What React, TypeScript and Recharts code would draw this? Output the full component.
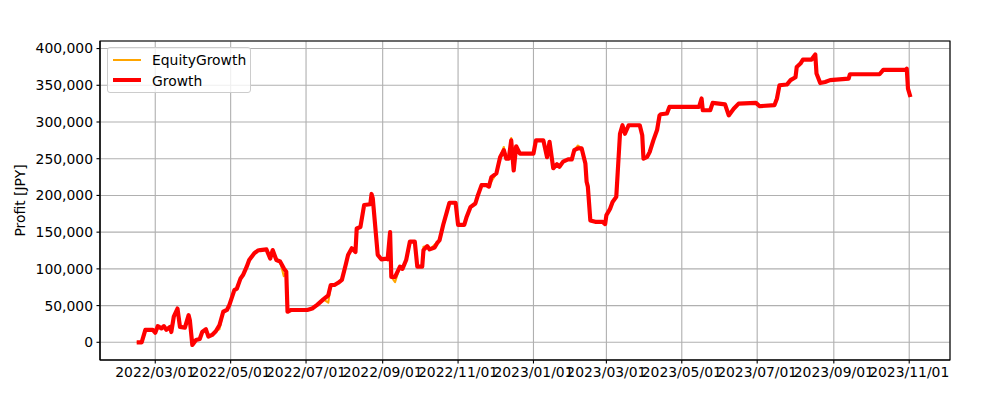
import React from 'react';
import { LineChart, Line, CartesianGrid, XAxis, YAxis, ReferenceArea } from 'recharts';

// sample dates of the curve
const dates = [
  '2022-02-14', '2022-02-18', '2022-02-21', '2022-02-27',
  '2022-03-01', '2022-03-03', '2022-03-06', '2022-03-08', '2022-03-10', '2022-03-13', '2022-03-14', '2022-03-16', '2022-03-19', '2022-03-21', '2022-03-25', '2022-03-28', '2022-03-29', '2022-03-31',
  '2022-04-03', '2022-04-06', '2022-04-08', '2022-04-11', '2022-04-13', '2022-04-16', '2022-04-19', '2022-04-22', '2022-04-25', '2022-04-28', '2022-04-30',
  '2022-05-04', '2022-05-06', '2022-05-09', '2022-05-11', '2022-05-14', '2022-05-16', '2022-05-20', '2022-05-23', '2022-05-25', '2022-05-30',
  '2022-06-02', '2022-06-04', '2022-06-07', '2022-06-10', '2022-06-13', '2022-06-15', '2022-06-16', '2022-06-19', '2022-06-24',
  '2022-07-02', '2022-07-06', '2022-07-10', '2022-07-15', '2022-07-19', '2022-07-21', '2022-07-24', '2022-07-27', '2022-07-30',
  '2022-08-02', '2022-08-04', '2022-08-07', '2022-08-10', '2022-08-11', '2022-08-14', '2022-08-17', '2022-08-22', '2022-08-23', '2022-08-24', '2022-08-28', '2022-08-31',
  '2022-09-04', '2022-09-05', '2022-09-07', '2022-09-08', '2022-09-11', '2022-09-15', '2022-09-17', '2022-09-20', '2022-09-23', '2022-09-27', '2022-09-29',
  '2022-10-03', '2022-10-04', '2022-10-07', '2022-10-09', '2022-10-13', '2022-10-15', '2022-10-17', '2022-10-20', '2022-10-23', '2022-10-25', '2022-10-30',
  '2022-11-01', '2022-11-06', '2022-11-08', '2022-11-11', '2022-11-15', '2022-11-17', '2022-11-20', '2022-11-24', '2022-11-26', '2022-11-28',
  '2022-12-02', '2022-12-05', '2022-12-08', '2022-12-10', '2022-12-12', '2022-12-14', '2022-12-16', '2022-12-18', '2022-12-21',
  '2023-01-01', '2023-01-03', '2023-01-09', '2023-01-12', '2023-01-14', '2023-01-17', '2023-01-20', '2023-01-22', '2023-01-25', '2023-01-29',
  '2023-02-01', '2023-02-03', '2023-02-06', '2023-02-09', '2023-02-12', '2023-02-13', '2023-02-14', '2023-02-16', '2023-02-20', '2023-02-26', '2023-02-28',
  '2023-03-01', '2023-03-04', '2023-03-06', '2023-03-09', '2023-03-12', '2023-03-14', '2023-03-16', '2023-03-19', '2023-03-28', '2023-03-30', '2023-03-31',
  '2023-04-03', '2023-04-05', '2023-04-08', '2023-04-11', '2023-04-13', '2023-04-14', '2023-04-19', '2023-04-21', '2023-04-30',
  '2023-05-15', '2023-05-17', '2023-05-18', '2023-05-24', '2023-05-26',
  '2023-06-05', '2023-06-08', '2023-06-12', '2023-06-16', '2023-06-30',
  '2023-07-03', '2023-07-15', '2023-07-17', '2023-07-19', '2023-07-25', '2023-07-28',
  '2023-08-01', '2023-08-02', '2023-08-05', '2023-08-07', '2023-08-14', '2023-08-17', '2023-08-18', '2023-08-21', '2023-08-25', '2023-08-29',
  '2023-09-13', '2023-09-14', '2023-10-08', '2023-10-11', '2023-10-29', '2023-10-30', '2023-10-31', '2023-11-02',
];

const growth = [
  0, 0, 17000, 17000,
  13000, 22000, 19000, 22000, 17000, 21000, 14000, 35000, 46000, 21000, 20000, 37000, 30000, -3700,
  3000, 4500, 14000, 17700, 7700, 10000, 15000, 23500, 41600, 44000, 51000,
  71000, 73000, 87000, 91600, 103000, 112000, 121000, 125000, 125600, 126500,
  114000, 125600, 112000, 110000, 100700, 96000, 41600, 44000, 44000,
  44000, 46000, 51000, 58500, 64000, 78000, 78000, 81000, 85000,
  105000, 119000, 128000, 123000, 155000, 157000, 187000, 188000, 202000, 196000, 119000, 113000,
  114000, 113000, 150000, 89000, 89000, 103000, 100000, 112000, 137000, 137000, 103000,
  103000, 125600, 131000, 126500, 129000, 135000, 139000, 160000, 178000, 190000, 190000,
  160000, 160000, 171000, 184000, 189000, 200000, 214000, 214000, 212000, 225000,
  230000, 252000, 261600, 250000, 250000, 275000, 234000, 267000, 257000,
  257000, 275000, 275000, 252000, 273000, 237000, 242500, 239000, 246000, 249000,
  249000, 261600, 264000, 264000, 243500, 218500, 212000, 166000, 164000, 164000, 161000,
  173000, 182000, 191000, 198000, 284000, 295600, 284000, 295600, 295600, 282000, 250000,
  252500, 259000, 275000, 289000, 309000, 310600, 311600, 320500, 320500,
  320500, 332000, 316000, 316000, 326000,
  324000, 309000, 318000, 325000, 326000,
  321500, 323000, 332000, 350000, 351000, 357000,
  361000, 375000, 379600, 385000, 385000, 392000, 366000, 353000, 354500, 357000,
  359000, 365000, 365000, 371000, 371000, 372700, 345500, 334000,
];

const equity = [
  0, 0, 17000, 17000,
  13000, 22000, 19000, 22000, 17000, 21000, 14000, 35000, 46000, 21000, 20000, 37000, 30000, -3700,
  3000, 4500, 14000, 17700, 7700, 10000, 15000, 18000, 41600, 44000, 51000,
  71000, 73000, 87000, 91600, 103000, 112000, 121000, 125000, 125600, 126500,
  114000, 125600, 112000, 110000, 90000, 96000, 41600, 44000, 44000,
  44000, 46000, 51000, 58500, 54000, 78000, 78000, 81000, 85000,
  105000, 119000, 128000, 123000, 155000, 157000, 187000, 188000, 202000, 196000, 119000, 113000,
  114000, 113000, 150000, 89000, 82000, 103000, 100000, 112000, 137000, 137000, 103000,
  103000, 130000, 131000, 126500, 133000, 135000, 139000, 160000, 178000, 190000, 190000,
  160000, 160000, 171000, 184000, 189000, 200000, 214000, 214000, 212000, 219000,
  230000, 252000, 266000, 250000, 250000, 278000, 234000, 267000, 257000,
  257000, 275000, 275000, 252000, 273000, 237000, 242500, 239000, 246000, 249000,
  249000, 261600, 268000, 264000, 243500, 218500, 212000, 166000, 164000, 164000, 161000,
  173000, 182000, 191000, 198000, 284000, 295600, 284000, 295600, 295600, 282000, 250000,
  252500, 259000, 275000, 289000, 309000, 310600, 311600, 320500, 320500,
  320500, 332000, 316000, 316000, 326000,
  324000, 309000, 318000, 325000, 326000,
  321500, 323000, 332000, 350000, 351000, 357000,
  361000, 375000, 379600, 385000, 385000, 392000, 366000, 353000, 354500, 357000,
  359000, 365000, 365000, 371000, 371000, 372700, 345500, 334000,
];

const xTickDates = [
  '2022-03-01', '2022-05-01', '2022-07-01', '2022-09-01', '2022-11-01', '2023-01-01',
  '2023-03-01', '2023-05-01', '2023-07-01', '2023-09-01', '2023-11-01',
];
const yTicks = [0, 50000, 100000, 150000, 200000, 250000, 300000, 350000, 400000];

const FONT = '"DejaVu Sans", sans-serif';
const FS = 13.9;
const PT = 100 / 72; // matplotlib points -> px at 100 dpi

const toDay = (s: string) =>
  Date.UTC(+s.slice(0, 4), +s.slice(5, 7) - 1, +s.slice(8, 10)) / 86400000;

const fmtDay = (d: number) => {
  const dt = new Date(Math.round(d) * 86400000);
  const mm = String(dt.getUTCMonth() + 1).padStart(2, '0');
  const dd = String(dt.getUTCDate()).padStart(2, '0');
  return `${dt.getUTCFullYear()}/${mm}/${dd}`;
};

const rows = dates.map((d, i) => ({ t: toDay(d), growth: growth[i], equity: equity[i] }));
const xTicks = xTickDates.map(toDay);
const base = toDay('2022-03-01');
const xDomain = [base - 44.7, base + 643];
const yDomain = [-24100, 410300];

const YLabel = (props: any) => {
  const vb = props.viewBox || {};
  const cx = 20;
  const cy = vb.y + vb.height / 2;
  return (
    <text x={cx} y={cy} transform={`rotate(-90, ${cx}, ${cy})`} textAnchor="middle"
      dominantBaseline="central" fill="#000" fontSize={FS} fontFamily={FONT}>
      Profit [JPY]
    </text>
  );
};

const LegendBox: React.FC = () => (
  <div style={{
    position: 'absolute', left: 107, top: 47, width: 144, height: 46, boxSizing: 'border-box',
    border: '1px solid #cccccc', borderRadius: 3, background: 'rgba(255,255,255,0.8)',
    fontFamily: FONT, fontSize: FS, color: '#000',
  }}>
    <div style={{ position: 'absolute', left: 5, top: 10.5, width: 28, height: 1.5 * PT, background: '#ffa500' }} />
    <div style={{ position: 'absolute', left: 44, top: 2, lineHeight: '20px' }}>EquityGrowth</div>
    <div style={{ position: 'absolute', left: 5, top: 30, width: 28, height: 3 * PT, background: '#ff0000' }} />
    <div style={{ position: 'absolute', left: 44, top: 23, lineHeight: '20px' }}>Growth</div>
  </div>
);

export default function App() {
  return (
    <div style={{ position: 'absolute', left: 0, top: 0, width: 1000, height: 400, background: '#fff' }}>
      <LineChart width={1000} height={400} data={rows} margin={{ top: 41, right: 50, bottom: 0, left: 0 }}>
        <CartesianGrid stroke="#b0b0b0" strokeWidth={0.8 * PT} />
        <XAxis
          dataKey="t" type="number" domain={xDomain} allowDataOverflow ticks={xTicks} interval={0}
          tickFormatter={fmtDay} height={40} tickSize={3.5} tickMargin={3.5}
          stroke="#000" strokeWidth={0.8 * PT}
          tick={{ fill: '#000', fontSize: FS, fontFamily: FONT }}
        />
        <YAxis
          type="number" domain={yDomain} allowDataOverflow ticks={yTicks} interval={0} width={100}
          tickFormatter={(v: number) => v.toLocaleString('en-US')} tickSize={3.5} tickMargin={3.5}
          stroke="#000" strokeWidth={0.8 * PT}
          tick={{ fill: '#000', fontSize: FS, fontFamily: FONT }}
          label={<YLabel />}
        />
        <Line type="linear" dataKey="equity" stroke="#ffa500" strokeWidth={1.5 * PT} dot={false}
          strokeLinejoin="round" isAnimationActive={false} />
        <Line type="linear" dataKey="growth" stroke="#ff0000" strokeWidth={3 * PT} dot={false}
          strokeLinejoin="round" isAnimationActive={false} />
        {/* axes frame (top and right spines) */}
        <ReferenceArea x1={xDomain[0]} x2={xDomain[1]} y1={yDomain[0]} y2={yDomain[1]}
          fill="none" fillOpacity={0} stroke="#000" strokeWidth={0.8 * PT} strokeOpacity={1} />
      </LineChart>
      <LegendBox />
    </div>
  );
}
